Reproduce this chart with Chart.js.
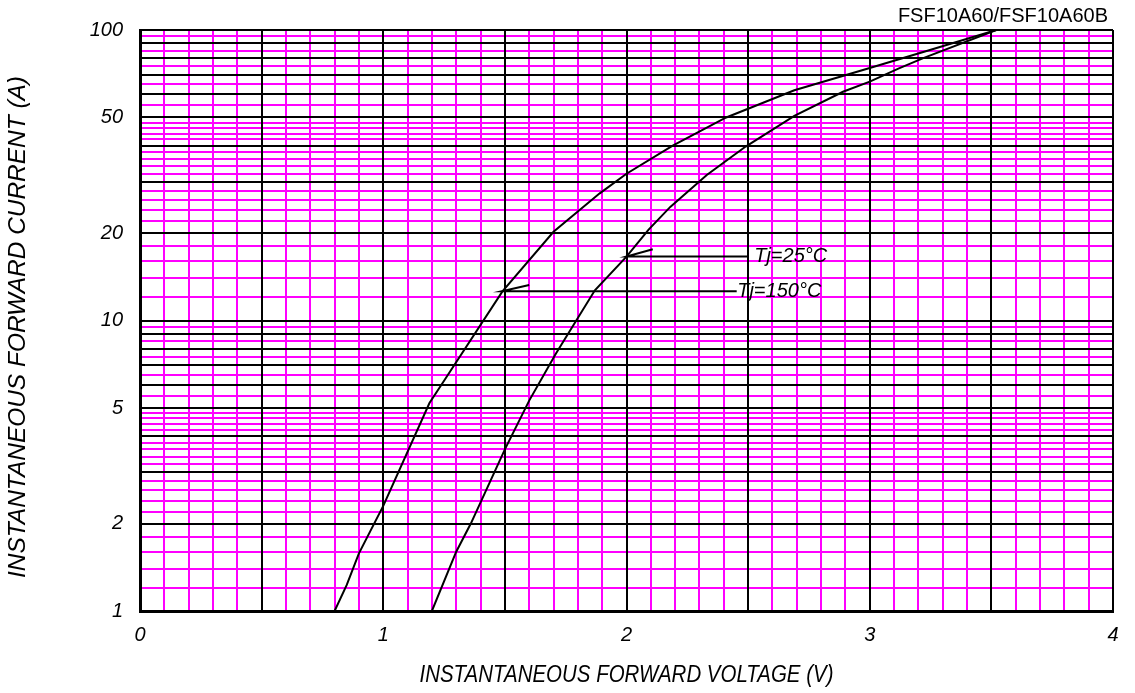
<!DOCTYPE html>
<html>
<head>
<meta charset="utf-8">
<script src="https://cdn.jsdelivr.net/npm/chart.js@4.4.1/dist/chart.umd.min.js"></script>
<style>
  html, body { margin: 0; padding: 0; background: #fff; }
  #box { width: 1135px; height: 693px; position: relative; }
</style>
</head>
<body>
<div id="box"><canvas id="vf-chart"></canvas></div>
<script>
// Data

const partName = 'FSF10A60/FSF10A60B';
const xTitle = 'INSTANTANEOUS FORWARD VOLTAGE (V)';
const yTitle = 'INSTANTANEOUS FORWARD CURRENT (A)';

// Tj = 150°C (left curve)
const v150 = [0.80, 0.85, 0.90, 1.00, 1.19, 1.25, 1.49, 1.70, 1.89, 2.00, 2.19, 2.41, 2.69, 3.00, 3.22, 3.52];
const i150 = [1.0, 1.23, 1.58, 2.3, 5.2, 6.2, 12.6, 20.2, 27.4, 32.0, 40.0, 50.0, 62.0, 74.0, 84.0, 100];

// Tj = 25°C (right curve)
const v25 = [1.20, 1.30, 1.36, 1.50, 1.60, 1.71, 1.87, 2.00, 2.09, 2.18, 2.33, 2.49, 2.69, 2.89, 3.00, 3.12, 3.22, 3.52];
const i25 = [1.0, 1.6, 2.0, 3.6, 5.3, 7.7, 12.7, 16.6, 20.5, 24.6, 31.7, 39.7, 50.6, 61.3, 66.4, 73.8, 80.0, 100];

// leader lines for the Tj labels
const lead25V = [2.108, 2.0, 2.50];
const lead25I = [17.6, 16.6, 16.6];
const lead150V = [1.60, 1.487, 2.453];
const lead150I = [13.25, 12.6, 12.6];

const tjLabels = ['Tj=25°C', 'Tj=150°C'];
const tjLabelV = [2.525, 2.455];
const tjLabelI = [16.6, 12.6];

const xTickLabels = [0, 1, 2, 3, 4];
const yTickLabels = [1, 2, 5, 10, 20, 50, 100];

const colors = {
    pink: '#ff00ff',
    black: '#000000'
};
const fontFamily = '"Liberation Sans", Arial, sans-serif';

// zip two arrays into {x, y} points
let toPoints = function(xs, ys) {
    return xs.map((x, i) => ({ x: x, y: ys[i] }));
};

// grid positions of the chart paper
let xAll = [];
for (let k = 0; k <= 40; k++) xAll.push(k / 10);
let xMajor = [];
for (let k = 0; k <= 8; k++) xMajor.push(k / 2);

let yAll = [];
let yMajor = [];
[1, 10].forEach(function(d) {
    for (let k = 10; k <= 100; k += (k < 50 ? 2 : 5)) {
        if (d === 10 && k === 10) continue;
        let v = k / 10 * d;
        yAll.push(v);
        if (k % 10 === 0) yMajor.push(v);
    }
});

let isInt = v => Math.abs(v - Math.round(v)) < 1e-6;
let isMajorY = v => yMajor.some(m => Math.abs(m - v) < 1e-6);

let lineSet = function(pts) {
    return {
        data: pts,
        borderColor: colors.black,
        backgroundColor: colors.black,
        borderWidth: 2,
        pointRadius: 0,
        tension: 0,
        fill: false
    };
};

// text that is drawn straight on the canvas
let drawFitted = function(ctx, text, cx, cy, angle, width) {
    ctx.save();
    ctx.translate(cx, cy);
    ctx.rotate(angle);
    let w = ctx.measureText(text).width;
    ctx.scale(width / w, 1);
    ctx.fillText(text, 0, 0);
    ctx.restore();
};

const sheetText = {
    id: 'sheetText',
    afterDraw(chart) {
        const ctx = chart.ctx;
        const area = chart.chartArea;
        const xs = chart.scales.x;
        const ys = chart.scales.y;
        ctx.save();
        ctx.fillStyle = '#000';

        ctx.font = '20px ' + fontFamily;
        ctx.textAlign = 'right';
        ctx.textBaseline = 'alphabetic';
        ctx.fillText(partName, area.right - 5, 22);

        ctx.font = 'italic 20px ' + fontFamily;
        ctx.textAlign = 'left';
        ctx.textBaseline = 'middle';
        for (let i = 0; i < tjLabels.length; i++) {
            ctx.fillText(tjLabels[i], xs.getPixelForValue(tjLabelV[i]), ys.getPixelForValue(tjLabelI[i]));
        }

        ctx.textAlign = 'center';
        ctx.font = 'italic 23px ' + fontFamily;
        drawFitted(ctx, xTitle, (area.left + area.right) / 2, 676, 0, 414);
        ctx.font = 'italic 24px ' + fontFamily;
        drawFitted(ctx, yTitle, 18, 327, -Math.PI / 2, 502);
        ctx.restore();
    }
};

document.addEventListener('DOMContentLoaded', function() {
    let chartDom = document.getElementById('vf-chart').getContext('2d');
    new Chart(chartDom, {
        type: 'line',
        data: {
            datasets: [
                lineSet(toPoints(v150, i150)),
                lineSet(toPoints(v25, i25)),
                lineSet(toPoints(lead25V, lead25I)),
                lineSet(toPoints(lead150V, lead150I))
            ]
        },
        options: {
            responsive: true,
            maintainAspectRatio: false,
            animation: false,
            devicePixelRatio: 1,
            layout: { padding: { top: 30, right: 22, left: 0, bottom: 0 } },
            plugins: {
                legend: { display: false },
                tooltip: { enabled: false }
            },
            scales: {
                x: {
                    type: 'linear',
                    position: 'bottom',
                    min: 0,
                    max: 4,
                    afterBuildTicks: s => { s.ticks = xAll.map(v => ({ value: v })); },
                    afterFit: s => { s.height = 82; },
                    grid: {
                        z: -2,
                        drawTicks: false,
                        lineWidth: 2,
                        color: ctx => (isInt(ctx.tick.value * 2) ? 'rgba(0,0,0,0)' : colors.pink)
                    },
                    border: { display: true, color: colors.black, width: 3 },
                    ticks: {
                        autoSkip: false,
                        maxRotation: 0,
                        padding: 12,
                        color: '#000',
                        font: { family: fontFamily, size: 20, style: 'italic' },
                        callback: v => (xTickLabels.some(t => Math.abs(t - v) < 1e-6) ? String(Math.round(v)) : '')
                    }
                },
                xb: {
                    type: 'linear',
                    position: 'bottom',
                    min: 0,
                    max: 4,
                    afterBuildTicks: s => { s.ticks = xMajor.map(v => ({ value: v })); },
                    afterFit: s => { s.height = 0; },
                    grid: { z: -1, drawTicks: false, lineWidth: 2, color: colors.black },
                    border: { display: false },
                    ticks: { display: false }
                },
                y: {
                    type: 'logarithmic',
                    position: 'left',
                    min: 1,
                    max: 100,
                    afterBuildTicks: s => { s.ticks = yAll.map(v => ({ value: v })); },
                    afterFit: s => { s.width = 140; },
                    grid: {
                        z: -2,
                        drawTicks: false,
                        lineWidth: 2,
                        color: ctx => (isMajorY(ctx.tick.value) ? 'rgba(0,0,0,0)' : colors.pink)
                    },
                    border: { display: true, color: colors.black, width: 3 },
                    ticks: {
                        autoSkip: false,
                        padding: 17,
                        color: '#000',
                        font: { family: fontFamily, size: 20, style: 'italic' },
                        callback: v => (yTickLabels.some(t => Math.abs(t - v) < 1e-6) ? String(Math.round(v)) : '')
                    }
                },
                yb: {
                    type: 'logarithmic',
                    position: 'left',
                    min: 1,
                    max: 100,
                    afterBuildTicks: s => { s.ticks = yMajor.map(v => ({ value: v })); },
                    afterFit: s => { s.width = 0; },
                    grid: { z: -1, drawTicks: false, lineWidth: 2, color: colors.black },
                    border: { display: false },
                    ticks: { display: false }
                }
            }
        },
        plugins: [sheetText]
    });
});
</script>
</body>
</html>
